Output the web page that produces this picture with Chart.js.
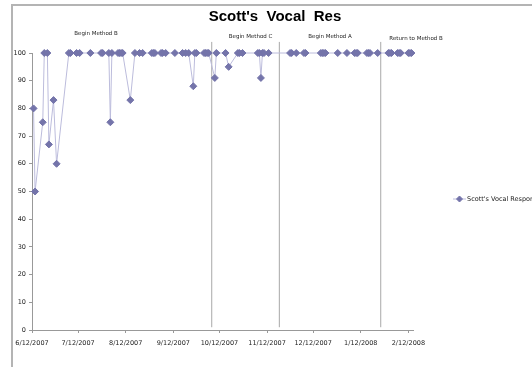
<!DOCTYPE html>
<html>
<head>
<meta charset="utf-8">
<script src="https://cdn.jsdelivr.net/npm/chart.js@4.4.0/dist/chart.umd.min.js"></script>
<style>
  html, body { margin: 0; padding: 0; background: #fff; }
  #wrap { position: relative; width: 532px; height: 367px; overflow: hidden; }
  #frame { position: absolute; left: 11px; top: 4px; right: -10px; bottom: -10px;
           border-top: 2px solid #b4b4b4; border-left: 2px solid #b4b4b4; }
  canvas { position: absolute; left: 0; top: 0; }
</style>
</head>
<body>
<div id="wrap"><div id="frame"></div><canvas id="chart" width="532" height="367"></canvas></div>
<script>
// session dates and % vocal responses
const sessionDates = [
  '2007-06-13', '2007-06-14', '2007-06-19', '2007-06-20', '2007-06-22', '2007-06-23', '2007-06-26', '2007-06-28',
  '2007-07-06', '2007-07-07', '2007-07-11', '2007-07-13', '2007-07-20', '2007-07-27', '2007-07-28',
  '2007-08-01', '2007-08-02', '2007-08-03', '2007-08-07', '2007-08-08', '2007-08-09', '2007-08-10', '2007-08-15',
  '2007-08-18', '2007-08-21', '2007-08-23', '2007-08-29', '2007-08-30', '2007-08-31',
  '2007-09-04', '2007-09-05', '2007-09-07', '2007-09-13', '2007-09-18', '2007-09-20', '2007-09-22', '2007-09-25',
  '2007-09-26', '2007-09-27', '2007-10-02', '2007-10-03', '2007-10-04', '2007-10-05',
  '2007-10-09', '2007-10-10', '2007-10-16', '2007-10-18', '2007-10-24', '2007-10-25', '2007-10-27',
  '2007-11-06', '2007-11-07', '2007-11-08', '2007-11-09', '2007-11-10', '2007-11-13',
  '2007-11-27', '2007-11-28', '2007-12-01', '2007-12-06', '2007-12-07', '2007-12-17', '2007-12-18', '2007-12-19',
  '2007-12-20', '2007-12-28', '2008-01-03', '2008-01-08', '2008-01-09', '2008-01-10', '2008-01-16', '2008-01-17',
  '2008-01-18', '2008-01-23',
  '2008-01-30', '2008-01-31', '2008-02-01', '2008-02-05', '2008-02-06', '2008-02-07', '2008-02-12', '2008-02-13',
  '2008-02-14'
];
const responsePct = [
  80, 50, 75, 100, 100, 67, 83, 60,
  100, 100, 100, 100, 100, 100, 100,
  100, 75, 100, 100, 100, 100, 100, 83,
  100, 100, 100, 100, 100, 100,
  100, 100, 100, 100, 100, 100, 100, 88,
  100, 100, 100, 100, 100, 100,
  91, 100, 100, 95, 100, 100, 100,
  100, 100, 91, 100, 100, 100,
  100, 100, 100, 100, 100, 100, 100, 100,
  100, 100, 100, 100, 100, 100, 100, 100,
  100, 100,
  100, 100, 100, 100, 100, 100, 100, 100,
  100
];

// phase change lines and their names
const phaseDates = ['2007-10-07', '2007-11-20', '2008-01-25'];
const phaseNames = ['Begin Method B', 'Begin Method C', 'Begin Method A', 'Return to Method B'];

// axes
const axisStart = '2007-06-12';
const axisEnd = '2008-02-15';
const xTickDates = ['2007-06-12', '2007-07-12', '2007-08-12', '2007-09-12', '2007-10-12',
                    '2007-11-12', '2007-12-12', '2008-01-12', '2008-02-12'];
const xTickLabels = ['6/12/2007', '7/12/2007', '8/12/2007', '9/12/2007', '10/12/2007',
                     '11/12/2007', '12/12/2007', '1/12/2008', '2/12/2008'];
const yTicks = [0, 10, 20, 30, 40, 50, 60, 70, 80, 90, 100];

const seriesName = "Scott's Vocal Response";
const chartTitle = "Scott's  Vocal  Res";

const day = s => (Date.parse(s) - Date.parse(axisStart)) / 864e5;

const markColor = '#7474aa';
const lineColor = '#bcbcdc';

// phase lines run from the floor up past the 100 line
const phaseSets = phaseDates.map(d => ({
  data: [{ x: day(d), y: 1 }, { x: day(d), y: 104 }],
  borderColor: '#a8a8a8',
  borderWidth: 1,
  pointRadius: 0,
  clip: false
}));

const textPlugin = {
  id: 'texts',
  afterDraw(chart, args, opts) {
    const { ctx, scales: { x, y } } = chart;
    ctx.save();
    ctx.fillStyle = '#000';
    ctx.textAlign = 'center';
    ctx.textBaseline = 'middle';
    ctx.font = 'bold 15px "Liberation Sans"';
    ctx.fillText(chartTitle, 275, 17);

    ctx.fillStyle = '#222';
    ctx.font = '5.5px "DejaVu Sans"';
    phaseNames.forEach((name, i) => {
      const a = opts.labelAt[i];
      ctx.fillText(name, x.getPixelForValue(a[0]), y.getPixelForValue(a[1]));
    });

    // legend
    const ly = 199;
    ctx.strokeStyle = lineColor;
    ctx.lineWidth = 1;
    ctx.beginPath();
    ctx.moveTo(453, ly);
    ctx.lineTo(466, ly);
    ctx.stroke();
    ctx.fillStyle = markColor;
    ctx.strokeStyle = markColor;
    Chart.helpers.drawPoint(ctx, { pointStyle: 'rectRot', radius: 3, borderWidth: 1 }, 459.5, ly);
    ctx.fillStyle = '#222';
    ctx.textAlign = 'left';
    ctx.font = '6.5px "DejaVu Sans"';
    ctx.fillText(seriesName, 467, ly);
    ctx.restore();
  }
};

new Chart(document.getElementById('chart'), {
  type: 'line',
  data: {
    datasets: [{
      label: seriesName,
      data: sessionDates.map((d, i) => ({ x: day(d), y: responsePct[i] })),
      borderColor: lineColor,
      borderWidth: 1,
      pointStyle: 'rectRot',
      pointRadius: 3.5,
      pointBackgroundColor: markColor,
      pointBorderColor: markColor,
      pointBorderWidth: 1,
      clip: false
    }, ...phaseSets]
  },
  options: {
    responsive: false,
    animation: false,
    devicePixelRatio: 1,
    layout: { padding: { top: 53, right: 119, left: 0, bottom: 0 } },
    plugins: {
      legend: { display: false },
      title: { display: false },
      tooltip: { enabled: false },
      texts: { labelAt: [[41.7, 107], [142.3, 105.8], [194, 105.8], [250, 105.2]] }
    },
    scales: {
      x: {
        type: 'linear',
        min: 0,
        max: day(axisEnd),
        afterFit: s => { s.height = 37; },
        afterBuildTicks: s => { s.ticks = xTickDates.map(d => ({ value: day(d) })); },
        border: { color: '#999', width: 1 },
        grid: { drawOnChartArea: false, tickLength: 3, color: '#999' },
        ticks: {
          autoSkip: false,
          maxRotation: 0,
          padding: 6,
          color: '#222',
          font: { family: 'DejaVu Sans', size: 6.5 },
          callback: v => xTickLabels[xTickDates.findIndex(d => day(d) === v)]
        }
      },
      y: {
        min: 0,
        max: 100,
        afterFit: s => { s.width = 32; },
        afterBuildTicks: s => { s.ticks = yTicks.map(v => ({ value: v })); },
        border: { color: '#999', width: 1 },
        grid: { drawOnChartArea: false, tickLength: 3, color: '#999' },
        ticks: {
          padding: 3,
          color: '#222',
          font: { family: 'DejaVu Sans', size: 6.5 }
        }
      }
    }
  },
  plugins: [textPlugin]
});
</script>
</body>
</html>
